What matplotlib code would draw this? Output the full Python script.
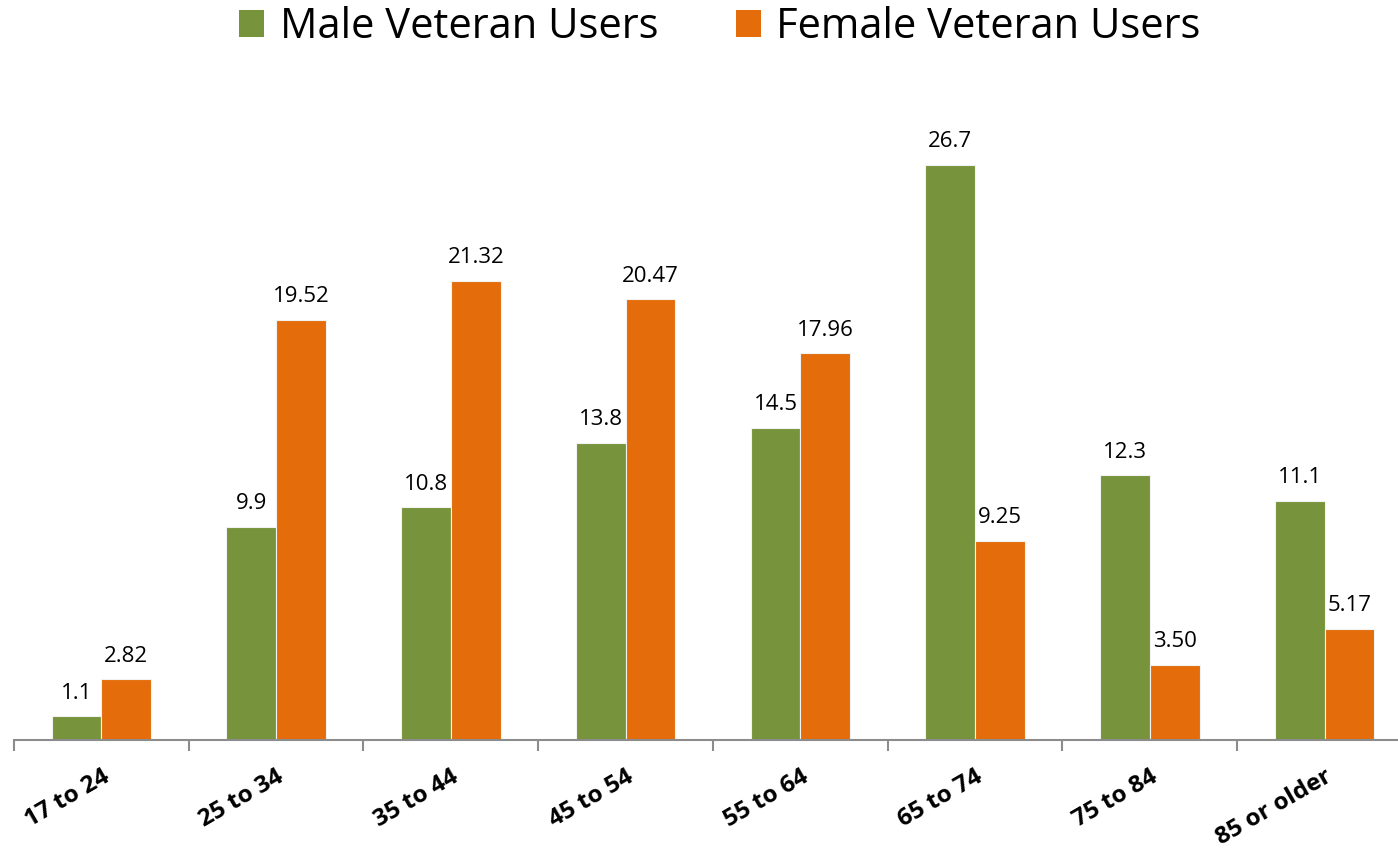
import matplotlib.pyplot as plt
import numpy as np
from matplotlib.patches import Patch

plt.rcParams['font.family'] = ['Open Sans', 'DejaVu Sans']

age_groups = ['17 to 24', '25 to 34', '35 to 44', '45 to 54',
              '55 to 64', '65 to 74', '75 to 84', '85 or older']
male_users = [1.1, 9.9, 10.8, 13.8, 14.5, 26.7, 12.3, 11.1]
female_users = [2.82, 19.52, 21.32, 20.47, 17.96, 9.25, 3.50, 5.17]
male_labels = ['1.1', '9.9', '10.8', '13.8', '14.5', '26.7', '12.3', '11.1']
female_labels = ['2.82', '19.52', '21.32', '20.47', '17.96', '9.25', '3.50', '5.17']

GREEN = '#77933C'
ORANGE = '#E46C0A'
BAR_WIDTH = 0.285

fig = plt.figure(figsize=(13.98, 8.49), dpi=100)
ax = fig.add_axes([0.010, 0.1284, 1.0, 0.761])

x = np.arange(len(age_groups))
male_bars = ax.bar(x - BAR_WIDTH / 2, male_users, BAR_WIDTH, color=GREEN,
                   edgecolor='#f2f2f2', linewidth=0.8)
female_bars = ax.bar(x + BAR_WIDTH / 2, female_users, BAR_WIDTH, color=ORANGE,
                     edgecolor='#f2f2f2', linewidth=0.8)

for bar, lab in zip(male_bars, male_labels):
    ax.annotate(lab, (bar.get_x() + bar.get_width() / 2, bar.get_height()),
                xytext=(0, 9), textcoords='offset points',
                ha='center', va='bottom', fontsize=16)
for bar, lab in zip(female_bars, female_labels):
    ax.annotate(lab, (bar.get_x() + bar.get_width() / 2, bar.get_height()),
                xytext=(0, 9), textcoords='offset points',
                ha='center', va='bottom', fontsize=16)

ax.set_xlim(-0.5, len(age_groups) - 0.5)
ax.set_ylim(0, 30)
ax.set_yticks([])
for side in ['top', 'right', 'left']:
    ax.spines[side].set_visible(False)
ax.spines['bottom'].set_color('#8c8c8c')
ax.spines['bottom'].set_linewidth(1.5)

ax.set_xticks(x)
ax.set_xticklabels(age_groups, rotation=30, ha='right', rotation_mode='anchor',
                   fontsize=17.5, fontweight='bold')
ax.tick_params(axis='x', which='major', length=0, pad=18)
ax.set_xticks(np.arange(len(age_groups) + 1) - 0.5, minor=True)
ax.tick_params(axis='x', which='minor', length=8, width=1.5, color='#8c8c8c')

handles = [Patch(facecolor=GREEN, label='Male Veteran Users'),
           Patch(facecolor=ORANGE, label='Female Veteran Users')]
fig.legend(handles=handles, loc='center', bbox_to_anchor=(0.515, 0.968),
           ncol=2, frameon=False, fontsize=30, handlelength=0.6,
           handleheight=0.6, handletextpad=0.38, columnspacing=1.85)

fig.savefig('out.png', dpi=100)
